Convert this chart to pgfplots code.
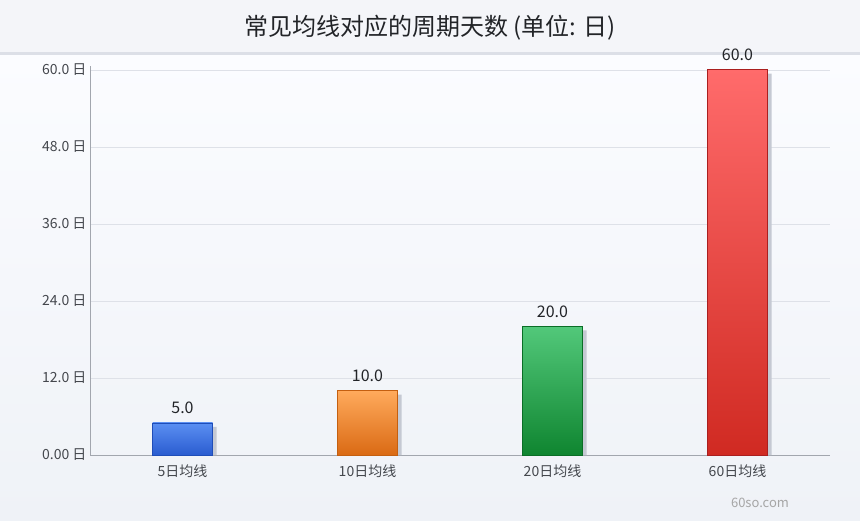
\documentclass[border=0pt]{standalone}
\usepackage{fontspec}
\setmainfont{Noto Sans CJK SC}
\usepackage{pgfplots}
\pgfplotsset{compat=1.18}

\definecolor{bgtop}{HTML}{FBFCFF}
\definecolor{bgbot}{HTML}{EFF2F7}
\definecolor{titlebg}{HTML}{F4F5F9}
\definecolor{titleline}{HTML}{DCDFE7}
\definecolor{titlecol}{HTML}{222428}
\definecolor{gridcol}{HTML}{DEE1E8}
\definecolor{axiscol}{HTML}{A2A6AE}
\definecolor{tickcol}{HTML}{44474D}
\definecolor{shadowcol}{HTML}{C5C9D3}
\definecolor{bluetop}{HTML}{5B8FF2}
\definecolor{bluebot}{HTML}{2A5CD0}
\definecolor{blueedge}{HTML}{1F4DB8}
\definecolor{orangetop}{HTML}{FFAA5C}
\definecolor{orangebot}{HTML}{DA6A14}
\definecolor{orangeedge}{HTML}{C45F10}
\definecolor{greentop}{HTML}{52C87A}
\definecolor{greenbot}{HTML}{0F8530}
\definecolor{greenedge}{HTML}{0A6E26}
\definecolor{redtop}{HTML}{FF6B6B}
\definecolor{redbot}{HTML}{D02A22}
\definecolor{rededge}{HTML}{AA1F1F}

\begin{document}
\begin{tikzpicture}[x=1pt,y=1pt]
  \useasboundingbox (0,0) rectangle (860,520);
  % background, title band
  \shade[top color=bgtop, bottom color=bgbot] (0,0) rectangle (860,466);
  \fill[titlebg] (0,467) rectangle (860,520);
  \fill[titleline] (0,465) rectangle (860,468);
  \node[font=\fontsize{24}{28}\selectfont, text=titlecol] at (430,492)
    {常见均线对应的周期天数 (单位: 日)};

  \begin{axis}[
      at={(90pt,65pt)}, anchor=south west,
      scale only axis, width=740pt, height=389pt,
      xmin=-0.5, xmax=3.5, ymin=0, ymax=60.6,
      axis lines*=left,
      axis line style={draw=axiscol, line width=0.8pt, -},
      xtick={0,1,2,3},
      xticklabels={5日均线, 10日均线, 20日均线, 60日均线},
      ytick={0,12,24,36,48,60},
      yticklabels={0.00 日, 12.0 日, 24.0 日, 36.0 日, 48.0 日, 60.0 日},
      major tick length=0pt,
      ymajorgrids,
      grid style={draw=gridcol, line width=0.7pt},
      tick label style={font=\fontsize{14}{16}\selectfont, text=tickcol},
      xticklabel style={yshift=-6pt},
      /pgf/number format/assume math mode=true,
      ybar, bar width=60pt, bar shift=0pt,
      nodes near coords,
      nodes near coords style={font=\fontsize{16}{19}\selectfont, text=titlecol,
        yshift=5pt,
        /pgf/number format/.cd, fixed, fixed zerofill, precision=1},
    ]
    % shadows
    \addplot[fill=shadowcol, draw=none, bar shift=4pt,
      y filter/.expression={y-0.6}, nodes near coords={}] coordinates {
      (0,5) (1,10) (2,20) (3,60)
    };
    % bars
    \addplot[top color=bluetop, bottom color=bluebot, draw=blueedge, line width=0.8pt]
      coordinates {(0,5)};
    \addplot[top color=orangetop, bottom color=orangebot, draw=orangeedge, line width=0.8pt]
      coordinates {(1,10)};
    \addplot[top color=greentop, bottom color=greenbot, draw=greenedge, line width=0.8pt]
      coordinates {(2,20)};
    \addplot[top color=redtop, bottom color=redbot, draw=rededge, line width=0.8pt]
      coordinates {(3,60)};
  \end{axis}

  \node[font=\fontsize{13}{15}\selectfont, text=black!35] at (760,17) {60so.com};
\end{tikzpicture}
\end{document}
